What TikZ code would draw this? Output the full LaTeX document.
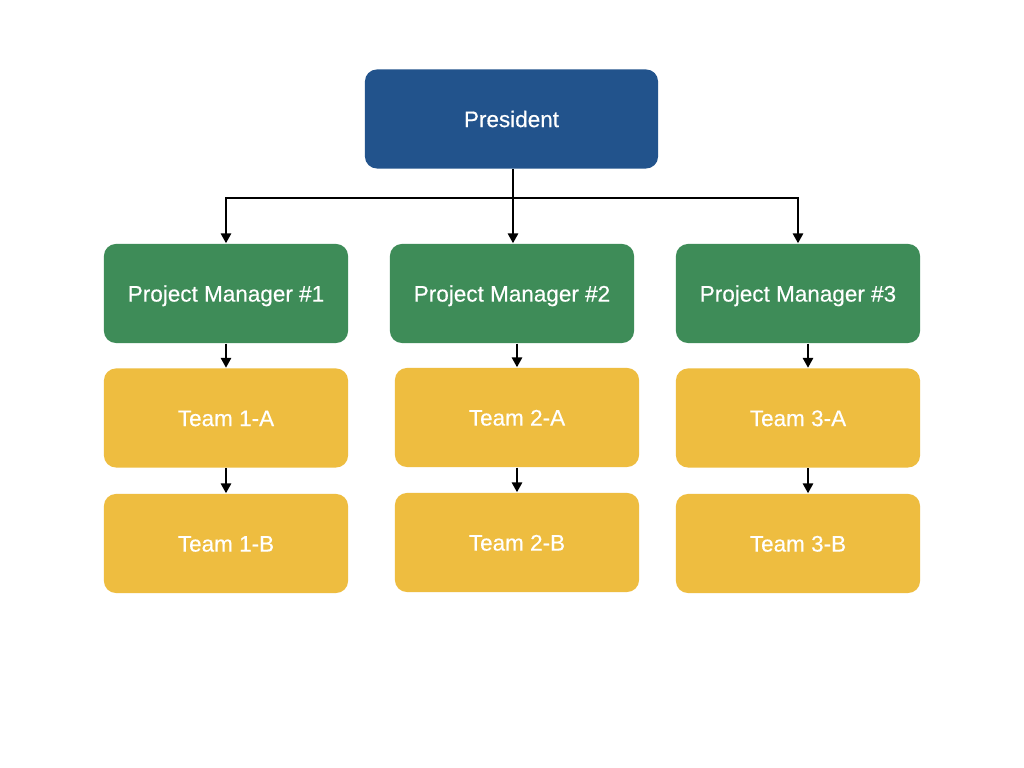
\documentclass[tikz,border=0pt]{standalone}
\usepackage{fontspec}
\setmainfont[FakeBold=0.4,AutoFakeBold=0.4]{Liberation Sans}
\usepackage{xcolor}
\usepackage{tikz}
\usetikzlibrary{arrows.meta,positioning}
\definecolor{chef}{RGB}{34,83,140}
\definecolor{pm}{RGB}{62,140,88}
\definecolor{team}{RGB}{238,189,64}

\begin{document}
\begin{tikzpicture}[x=0.01cm,y=-0.01cm,
    box/.style={rounded corners=0.12cm,minimum width=2.44cm,minimum height=0.99cm,
                text=white,font=\fontsize{6.4}{7.5}\selectfont\bfseries,inner sep=0pt,
                text height=4.6pt,text depth=0pt},
    fleche/.style={line width=0.6pt,-{Triangle[length=2.8pt,width=2.9pt]}}]
    \useasboundingbox[fill=white] (0,0) rectangle (1024,768);
    \node[box,fill=chef,minimum width=2.93cm] (pres) at (511.5,119){President};
    \node[box,fill=pm] (pm1) at (226,293.5){Project Manager \#1};
    \node[box,fill=pm] (pm2) at (512,293.5){Project Manager \#2};
    \node[box,fill=pm] (pm3) at (798,293.5){Project Manager \#3};
    \node[box,fill=team] (t1a) at (226,418){Team 1-A};
    \node[box,fill=team] (t2a) at (517,417.5){Team 2-A};
    \node[box,fill=team] (t3a) at (798,418){Team 3-A};
    \node[box,fill=team] (t1b) at (226,543.5){Team 1-B};
    \node[box,fill=team] (t2b) at (517,542.5){Team 2-B};
    \node[box,fill=team] (t3b) at (798,543.5){Team 3-B};
    % president vers les chefs de projet
    \coordinate (bus) at (513,198);
    \draw[line width=0.6pt] (pres.south -| bus) -- (bus);
    \draw[fleche] (bus) -| (pm1.north);
    \draw[fleche] (bus) -- (bus |- pm2.north);
    \draw[fleche] (bus) -| (pm3.north);
    % chefs vers equipes
    \draw[fleche] (pm1) -- (t1a);
    \draw[fleche] (t1a) -- (t1b);
    \draw[fleche] (pm2.south -| t2a.north) -- (t2a.north);
    \draw[fleche] (t2a) -- (t2b);
    \draw[fleche] ([xshift=0.1cm]pm3.south) -- ([xshift=0.1cm]t3a.north);
    \draw[fleche] ([xshift=0.1cm]t3a.south) -- ([xshift=0.1cm]t3b.north);
\end{tikzpicture}
\end{document}
